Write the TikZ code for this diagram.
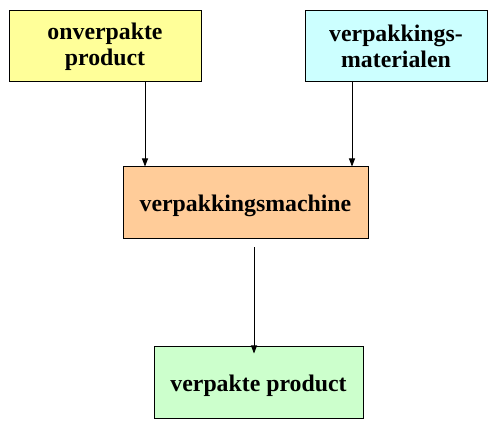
\documentclass[tikz,border=0pt]{standalone}
\usepackage{fontspec}
\setmainfont{Liberation Serif}
\usepackage{tikz}
\usetikzlibrary{arrows.meta,positioning}

\definecolor{boxyellow}{HTML}{FFFF99}
\definecolor{boxcyan}{HTML}{CCFFFF}
\definecolor{boxorange}{HTML}{FFCC99}
\definecolor{boxgreen}{HTML}{CCFFCC}

\begin{document}
\begin{tikzpicture}[
  x=1pt, y=1pt,
  % ---- boxes -------------------------------------------------------------
  block/.style={
    draw=black, line width=1pt, align=center, inner sep=0pt,
    font=\fontsize{23.8}{26}\selectfont\bfseries,
    minimum height=71pt},
  oneline/.style={block, text depth=0pt, minimum height=72pt},
  % ---- edges -------------------------------------------------------------
  flow/.style={draw=black, line width=0.8pt, -{Triangle[length=8pt,width=6pt]}},
]
\useasboundingbox (0,0) rectangle (500,430);

% ---- inputs ---------------------------------------------------------------
\node[block, fill=boxyellow, minimum width=192pt] (unpacked) at (105,383.5)
  {onverpakte\\product};
\node[block, fill=boxcyan, minimum width=182pt] (material) at (396,383.5)
  {verpakkings-\\materialen};

% ---- machine --------------------------------------------------------------
\node[oneline, fill=boxorange, minimum width=245pt] (machine) at (245.5,227)
  {verpakkingsmachine};

% ---- output ---------------------------------------------------------------
\node[oneline, fill=boxgreen, minimum width=209pt] (packed) at (258.5,47)
  {verpakte product};

% ---- connectors -----------------------------------------------------------
\draw[flow] ([xshift=40pt]unpacked.south) -- ([xshift=40pt]unpacked.south |- machine.north);
\draw[flow] ([xshift=-44pt]material.south) -- ([xshift=-44pt]material.south |- machine.north);
\coordinate (outstart) at ([shift={(8.5,-8)}]machine.south);
\draw[flow] (outstart) -- ([yshift=-7pt]outstart |- packed.north);

\end{tikzpicture}
\end{document}
